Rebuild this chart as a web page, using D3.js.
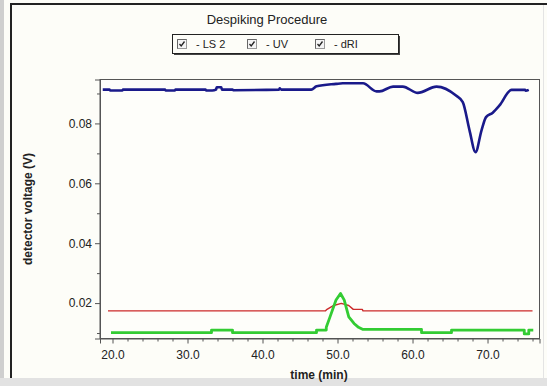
<!DOCTYPE html>
<html>
<head>
<meta charset="utf-8">
<script src="https://cdn.jsdelivr.net/npm/d3@7"></script>
<style>
  body { margin: 0; background: #fdfdf8; }
  svg { display: block; font-family: "Liberation Sans", Arial, sans-serif; }
</style>
</head>
<body>
<div id="chart"></div>
<script>
// dati
var seriesNames = ["LS 2", "UV", "dRI"];
var seriesColors = ["#1a1a8a", "#cc2a2a", "#33cc33"];

var lsTime  = [18.7, 19.6, 19.7, 21.3, 21.4, 27.0, 27.1, 28.3, 28.4, 32.4, 32.5, 33.3, 33.8, 33.9, 34.5, 34.6, 36.0, 36.1, 42.2, 42.3, 42.5, 46.5, 47.2, 49.8, 50.7, 53.4, 55.2, 55.6, 57.4, 58.7, 60.7, 63.2, 65.8, 66.7, 67.6, 68.4, 69.2, 69.8, 70.7, 71.6, 73.2, 75.0, 75.1, 75.5];
var lsValue = [0.0913, 0.0913, 0.0910, 0.0910, 0.0913, 0.0913, 0.0910, 0.0910, 0.0913, 0.0913, 0.0910, 0.0910, 0.0913, 0.0921, 0.0921, 0.0913, 0.0913, 0.0911, 0.0913, 0.0917, 0.0913, 0.0913, 0.0924, 0.0932, 0.0934, 0.0934, 0.0907, 0.0907, 0.0923, 0.0923, 0.0902, 0.0923, 0.0893, 0.0871, 0.0777, 0.0704, 0.0777, 0.0821, 0.0836, 0.0860, 0.0912, 0.0912, 0.0909, 0.0912];

var uvTime  = [19.4, 48.4, 48.6, 49.5, 50.5, 51.5, 52.1, 53.3, 53.4, 76.0];
var uvValue = [0.0174, 0.0174, 0.0179, 0.0192, 0.0199, 0.0192, 0.0179, 0.0179, 0.0174, 0.0174];

var driTime  = [19.8, 33.2, 33.2, 36.0, 36.0, 47.2, 47.2, 48.5, 48.5, 49.0, 49.8, 50.4, 50.9, 51.5, 52.2, 52.8, 53.4, 61.2, 61.2, 65.2, 65.2, 74.9, 74.9, 75.5, 75.5, 76.1];
var driValue = [0.0101, 0.0101, 0.0110, 0.0110, 0.0101, 0.0101, 0.0110, 0.0110, 0.0119, 0.0154, 0.0210, 0.0232, 0.0210, 0.0154, 0.0132, 0.0119, 0.0112, 0.0112, 0.0101, 0.0101, 0.0110, 0.0110, 0.0097, 0.0097, 0.0110, 0.0110];

var xTicks = [20, 30, 40, 50, 60, 70];
var yTicks = [0.02, 0.04, 0.06, 0.08];

var width = 547;
var height = 386;
var plot = { left: 100, right: 539.5, top: 79.5, bottom: 338.5 };

var svg = d3.select("#chart")
            .append("svg")
            .attr("width", width)
            .attr("height", height);

// cornice esterna
svg.append("rect").attr("x", 0).attr("y", 0).attr("width", width).attr("height", height).attr("fill", "#fdfdf8");
svg.append("rect").attr("x", 0).attr("y", 0).attr("width", 4).attr("height", height).attr("fill", "#cfcfcf");
svg.append("rect").attr("x", 0).attr("y", 378).attr("width", width).attr("height", 8).attr("fill", "#e2e2e2");
svg.append("line").attr("x1", 11).attr("x2", 11).attr("y1", 3).attr("y2", 378).attr("stroke", "#222").attr("stroke-width", 2);
svg.append("line").attr("x1", 11).attr("x2", width).attr("y1", 4).attr("y2", 4).attr("stroke", "#222").attr("stroke-width", 2);
svg.append("line").attr("x1", 543.5).attr("x2", 543.5).attr("y1", 5).attr("y2", 378).attr("stroke", "#e4e4e4");

var x = d3.scaleLinear().domain([18.333, 76.93]).range([plot.left, plot.right]);
var y = d3.scaleLinear().domain([0.00817, 0.09467]).range([plot.bottom, plot.top]);

// titolo
svg.append("text")
   .attr("x", 267).attr("y", 24)
   .attr("text-anchor", "middle")
   .style("font-size", "13px")
   .attr("fill", "#222")
   .text("Despiking Procedure");

// legenda
var leg = svg.append("g");
leg.append("rect").attr("x", 174).attr("y", 36).attr("width", 226).attr("height", 19).attr("fill", "#444");
leg.append("rect").attr("x", 172.5).attr("y", 34.5).attr("width", 226).attr("height", 19).attr("fill", "#fdfdf8").attr("stroke", "#222");
var legX = [177, 247, 315];
seriesNames.forEach(function(name, i) {
    var g = leg.append("g").attr("transform", "translate(" + legX[i] + ",39)");
    g.append("rect").attr("x", 0.5).attr("y", 0.5).attr("width", 9).attr("height", 9)
     .attr("fill", "#f4f4f4").attr("stroke", "#999");
    // bordo incassato della casella
    g.append("path").attr("d", "M0.5,9.5 L0.5,0.5 L9.5,0.5").attr("fill", "none").attr("stroke", "#666");
    g.append("path").attr("d", "M2.5,5 L4.2,7 L7.5,2.5").attr("fill", "none").attr("stroke", "#222").attr("stroke-width", 1.3);
    g.append("text").attr("x", 19).attr("y", 9)
     .style("font-size", "11px").attr("fill", "#222")
     .text("-  " + name);
});

// area del grafico
svg.append("rect")
   .attr("x", plot.left).attr("y", plot.top)
   .attr("width", plot.right - plot.left).attr("height", plot.bottom - plot.top)
   .attr("fill", "#fefefa").attr("stroke", "#555");

// assi
var xAxis = svg.append("g")
   .attr("transform", "translate(0," + plot.bottom + ")")
   .call(d3.axisBottom(x).tickValues(xTicks).tickSize(5).tickFormat(d3.format(".1f")));
svg.append("g")
   .attr("transform", "translate(0," + plot.bottom + ")")
   .call(d3.axisBottom(x).tickValues(d3.range(22, 77, 2).filter(function(d) { return d % 10 != 0; })).tickSize(3).tickFormat(""))
   .call(function(g) { g.select(".domain").remove(); });

var yAxis = svg.append("g")
   .attr("transform", "translate(" + plot.left + ",0)")
   .call(d3.axisLeft(y).tickValues(yTicks).tickSize(5).tickFormat(d3.format(".2f")));
svg.append("g")
   .attr("transform", "translate(" + plot.left + ",0)")
   .call(d3.axisLeft(y).tickValues([0.01, 0.03, 0.05, 0.07, 0.09]).tickSize(3).tickFormat(""))
   .call(function(g) { g.select(".domain").remove(); });

svg.selectAll(".domain").attr("stroke", "#555");
svg.selectAll(".tick line").attr("stroke", "#555");
svg.selectAll(".tick text").style("font-size", "12px").style("font-family", "Liberation Sans, Arial, sans-serif").attr("fill", "#222");
xAxis.selectAll(".tick text").attr("dy", "1.05em");

// etichette assi
svg.append("text")
   .attr("transform", "translate(32,209) rotate(-90)")
   .attr("text-anchor", "middle")
   .style("font-size", "12px").style("font-weight", "bold")
   .attr("fill", "#222")
   .text("detector voltage (V)");

svg.append("text")
   .attr("x", 319).attr("y", 379)
   .attr("text-anchor", "middle")
   .style("font-size", "12px").style("font-weight", "bold")
   .attr("fill", "#222")
   .text("time (min)");

// tracce
var line = d3.line().x(function(d) { return x(d[0]); }).y(function(d) { return y(d[1]); });
var traces = [
    { t: lsTime, v: lsValue, w: 2.6, curve: d3.curveMonotoneX },
    { t: uvTime, v: uvValue, w: 1.4, curve: d3.curveLinear },
    { t: driTime, v: driValue, w: 2.8, curve: d3.curveLinear }
];
traces.forEach(function(s, i) {
    svg.append("path")
       .datum(d3.zip(s.t, s.v))
       .attr("d", line.curve(s.curve))
       .attr("fill", "none")
       .attr("stroke", seriesColors[i])
       .attr("stroke-width", s.w)
       .attr("stroke-linejoin", "round");
});
</script>
</body>
</html>
